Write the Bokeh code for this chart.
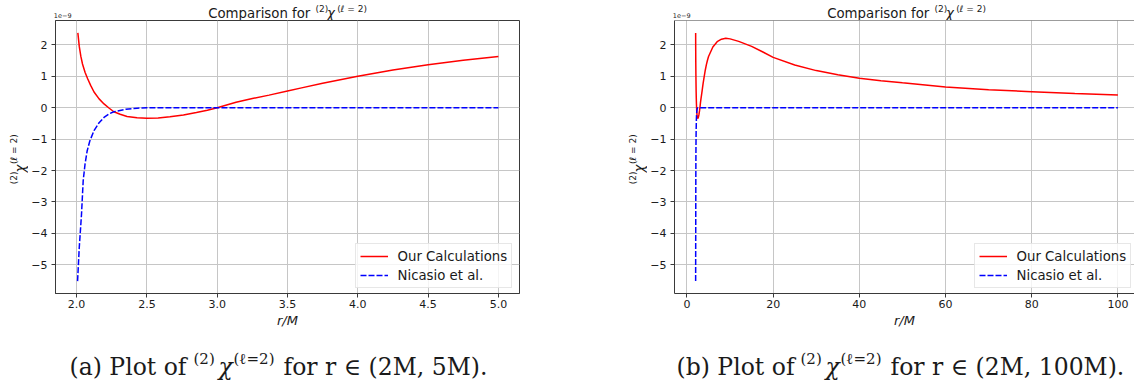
from bokeh.plotting import figure
from bokeh.layouts import row, column
from bokeh.models import (Range1d, FixedTicker, Label, Legend, LegendItem, Span,
                          PrintfTickFormatter)
from bokeh.embed import file_html
from bokeh.resources import INLINE
import math

# ---------------- data (values in units of 1e-9) ----------------
r_ours = [2.009, 2.019, 2.030, 2.042, 2.060, 2.078, 2.100, 2.124, 2.160, 2.195,
          2.230, 2.265, 2.310, 2.359, 2.430, 2.500, 2.580, 2.664, 2.760, 2.852,
          2.930, 3.000, 3.134, 3.250, 3.369, 3.500, 3.600, 3.750, 4.000, 4.250,
          4.500, 4.750, 5.000, 6.0, 7.0, 8.0, 9.0, 10.0, 12.0, 15.0,
          17.5, 20.0, 25.0, 30.0, 35.0, 40.0, 45.0, 50.0, 60.0, 70.0,
          80.0, 90.0, 100.0]
chi_ours = [2.38, 1.95, 1.64, 1.39, 1.13, 0.93, 0.71, 0.50, 0.28, 0.12,
            -0.01, -0.13, -0.21, -0.28, -0.32, -0.34, -0.33, -0.29, -0.23, -0.15,
            -0.08, 0.00, 0.17, 0.29, 0.40, 0.53, 0.63, 0.78, 1.00, 1.20,
            1.37, 1.51, 1.63, 1.93, 2.10, 2.18, 2.21, 2.19, 2.11, 1.95,
            1.78, 1.60, 1.36, 1.18, 1.05, 0.94, 0.86, 0.79, 0.66, 0.57,
            0.51, 0.45, 0.40]

r_nicasio = [2.007, 2.019, 2.035, 2.047, 2.060, 2.075, 2.094, 2.124, 2.160, 2.195,
             2.230, 2.265, 2.350, 2.430, 2.500, 3.0, 4.0, 5.0, 100.0]
chi_nicasio = [-5.52, -4.45, -3.39, -2.32, -1.80, -1.38, -1.06, -0.73, -0.48, -0.31,
               -0.20, -0.13, -0.05, -0.015, 0.0, 0.0, 0.0, 0.0, 0.0]

series_names = ["Our Calculations", "Nicasio et al."]

x_ticks_a = [2.0, 2.5, 3.0, 3.5, 4.0, 4.5, 5.0]
x_ticks_b = [0, 20, 40, 60, 80, 100]
y_ticks = [-5, -4, -3, -2, -1, 0, 1, 2]
y_tick_labels = ["\u22125", "\u22124", "\u22123", "\u22122", "\u22121", "0", "1", "2"]

title_main = "Comparison for"
sup_left = "(2)"
chi_sym = "\u03c7"
sup_right = "(\u2113 = 2)"
x_label = "r/M"
offset_text = "1e\u22129"
caption_a = ["(a) Plot of", "(2)", "\u03c7", "(\u2113=2)", "for r \u2208 (2M, 5M)."]
caption_b = ["(b) Plot of", "(2)", "\u03c7", "(\u2113=2)", "for r \u2208 (2M, 100M)."]

TXT = "#1a1a1a"
SPINE = "#3a3a3a"

TITLE_H = 20     # frame top at page y 20
MAIN_H = 310     # main figure spans page y 20..330
CAP_H = 61       # caption strip 330..391


def text_fig(w, h):
    f = figure(width=w, height=h, x_range=Range1d(0, w), y_range=Range1d(0, h),
               output_backend="svg", toolbar_location=None, title=None,
               min_border=0, x_axis_type=None, y_axis_type=None)
    f.outline_line_color = None
    f.background_fill_color = "white"
    f.border_fill_color = "white"
    return f


def lab(f, x, y, text, size, style="normal", angle=0.0, font="DejaVu Sans"):
    f.add_layout(Label(x=x, y=y, text=text, text_font=font, text_font_size=size,
                       text_font_style=style, angle=angle, text_align="left",
                       text_baseline="alphabetic", text_color=TXT))


def main_fig(width, border_left, border_right, xr, xticks, fmt, rmax, outline=True):
    p = figure(width=width, height=MAIN_H, x_range=Range1d(*xr),
               y_range=Range1d(-5.915, 2.775), output_backend="svg",
               toolbar_location=None, title=None,
               min_border_left=border_left, min_border_right=border_right,
               min_border_top=0, min_border_bottom=37)
    p.background_fill_color = "white"
    p.border_fill_color = "white"
    p.outline_line_color = SPINE if outline else None
    p.outline_line_width = 1

    xs = [r for r in r_ours if r <= rmax]
    ys = chi_ours[:len(xs)]
    xb = [r for r in r_nicasio if r <= rmax]
    yb = chi_nicasio[:len(xb)]
    l1 = p.line(xs, ys, line_color="#ff0000", line_width=1.5)
    l2 = p.line(xb, yb, line_color="#0000ff", line_width=1.5, line_dash="6 2")

    for ax in (p.xaxis[0], p.yaxis[0]):
        ax.axis_line_color = SPINE
        ax.major_tick_line_color = SPINE
        ax.major_tick_out = 4
        ax.major_tick_in = 0
        ax.minor_tick_line_color = None
        ax.major_label_text_font = "DejaVu Sans"
        ax.major_label_text_font_size = "11px"
        ax.major_label_text_color = TXT
    p.xaxis.ticker = FixedTicker(ticks=xticks)
    p.xaxis.formatter = PrintfTickFormatter(format=fmt)
    p.xaxis.major_label_standoff = 2
    p.xaxis.axis_label = x_label
    p.xaxis.axis_label_text_font = "DejaVu Sans"
    p.xaxis.axis_label_text_font_size = "13px"
    p.xaxis.axis_label_text_font_style = "italic"
    p.xaxis.axis_label_text_color = TXT
    p.xaxis.axis_label_standoff = 2
    p.yaxis.ticker = FixedTicker(ticks=y_ticks)
    p.yaxis.major_label_overrides = {float(t): s for t, s in zip(y_ticks, y_tick_labels)}
    p.yaxis.major_label_standoff = 4

    p.grid.grid_line_color = "#c6c6c6"
    p.grid.grid_line_width = 1

    if not outline:
        p.add_layout(Span(location=2.775, dimension="width", line_color=SPINE,
                          line_width=1))

    leg = Legend(items=[LegendItem(label=series_names[0], renderers=[l1]),
                        LegendItem(label=series_names[1], renderers=[l2])],
                 location=(299.5, 5), margin=0, padding=4, spacing=3,
                 glyph_width=28, glyph_height=16, label_height=16,
                 label_standoff=10, label_text_font="DejaVu Sans",
                 label_text_font_size="13.3px", label_text_color=TXT,
                 background_fill_color="white", background_fill_alpha=0.8,
                 border_line_color="#d0d0d0", border_line_width=1)
    p.add_layout(leg)
    return p


def panel(total_w, ylab_w, fl_local, main_kwargs, caption, cap_x, title_x0):
    # title strip (page y 0..20); y measured upward from strip bottom
    t = text_fig(total_w, TITLE_H)
    lab(t, title_x0, 7.3, title_main, "13.3px")
    lab(t, title_x0 + 107.3, 11.2, sup_left, "9px")
    lab(t, title_x0 + 118.8, 7.3, chi_sym, "13.3px", style="italic")
    lab(t, title_x0 + 129.0, 11.2, sup_right, "9px")
    lab(t, fl_local + 1.0, 4.6, offset_text, "6.5px")

    # rotated y label strip (page y 20..330)
    yl = text_fig(ylab_w, MAIN_H)
    a = math.pi / 2
    bx = ylab_w - 14.5
    lab(yl, bx, 124.0, sup_left, "9px", angle=a)
    lab(yl, bx + 6.5, 137.5, chi_sym, "13.3px", style="italic", angle=a)
    lab(yl, bx, 147.0, sup_right, "9px", angle=a)

    m = main_fig(total_w - ylab_w, **main_kwargs)

    # caption strip (page y 330..391)
    c = text_fig(total_w, CAP_H)
    lab(c, cap_x[0], 24.5, caption[0], "23.5px", font="DejaVu Serif")
    lab(c, cap_x[1], 32.5, caption[1], "15px", font="DejaVu Serif")
    lab(c, cap_x[2], 24.5, caption[2], "23.5px", style="italic", font="DejaVu Serif")
    lab(c, cap_x[3], 32.5, caption[3], "15px", font="DejaVu Serif")
    lab(c, cap_x[4], 24.5, caption[4], "23.5px", font="DejaVu Serif")
    return column(t, row(yl, m), c)


# left panel: page x 0..568, frame 52.3..519.3
pa = panel(568, 28, 52.3,
           dict(border_left=24, border_right=49, xr=(1.85, 5.15), xticks=x_ticks_a,
                fmt="%.1f", rmax=5.0),
           caption_a, [69, 193, 218, 233, 283], 207.7)
# right panel: page x 568..1134, frame 671.3..(cut)
pb = panel(566, 79, 671.3 - 568,
           dict(border_left=24, border_right=0, xr=(-2.9, 103.85), xticks=x_ticks_b,
                fmt="%d", rmax=100.0, outline=False),
           caption_b, [676 - 568, 800 - 568, 825 - 568, 840 - 568, 890 - 568],
           826.7 - 568)

layout = row(pa, pb)
open("out.html", "w").write(file_html(layout, INLINE))
